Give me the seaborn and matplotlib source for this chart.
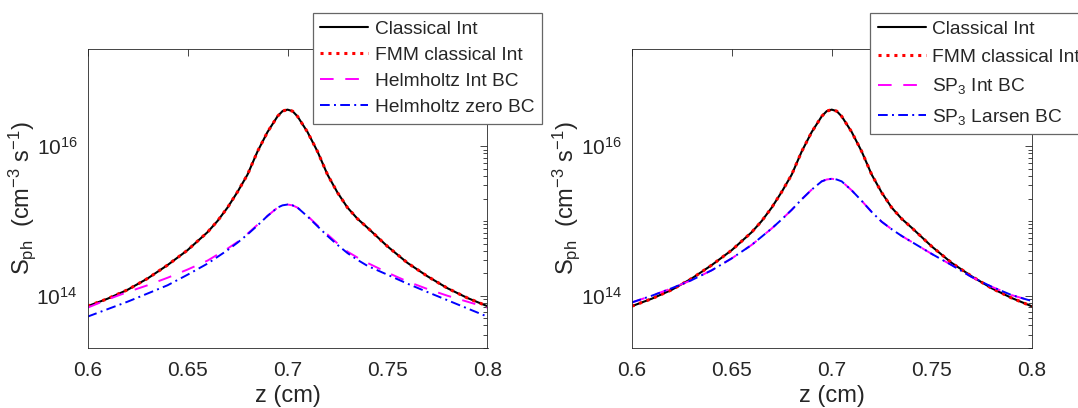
import numpy as np
import pandas as pd
import matplotlib
matplotlib.use('Agg')
import matplotlib.pyplot as plt
import seaborn as sns
from matplotlib.ticker import FixedLocator, LogLocator, NullFormatter

# z positions (cm)
z = [0.60, 0.61, 0.62, 0.63, 0.64, 0.65, 0.66, 0.665, 0.67, 0.675, 0.68, 0.685,
     0.69, 0.695, 0.6975, 0.70, 0.7025, 0.705, 0.71, 0.715, 0.72, 0.725,
     0.73, 0.735, 0.74, 0.75, 0.76, 0.77, 0.78, 0.79, 0.80]

classical_int = [7.24e13, 9.12e13, 1.20e14, 1.70e14, 2.57e14, 4.07e14, 7.08e14,
                 1.00e15, 1.51e15, 2.45e15, 4.17e15, 8.51e15, 1.55e16, 2.51e16,
                 2.95e16, 3.09e16, 2.95e16, 2.51e16, 1.55e16, 8.51e15, 4.17e15,
                 2.40e15, 1.51e15, 1.07e15, 8.13e14, 4.57e14, 2.75e14, 1.82e14,
                 1.26e14, 9.33e13, 7.24e13]
fmm_classical_int = list(classical_int)

helmholtz_int = [6.92e13, 8.91e13, 1.12e14, 1.38e14, 1.74e14, 2.24e14, 2.95e14,
                 3.55e14, 4.27e14, 5.25e14, 6.76e14, 8.91e14, 1.17e15, 1.51e15,
                 1.62e15, 1.66e15, 1.62e15, 1.51e15, 1.17e15, 8.71e14, 6.61e14,
                 5.01e14, 3.89e14, 3.24e14, 2.75e14, 2.04e14, 1.55e14, 1.23e14,
                 1.00e14, 8.32e13, 6.92e13]
helmholtz_zero = [5.25e13, 6.61e13, 8.32e13, 1.07e14, 1.38e14, 1.91e14, 2.69e14,
                  3.31e14, 4.07e14, 5.13e14, 6.61e14, 8.71e14, 1.17e15, 1.51e15,
                  1.62e15, 1.66e15, 1.62e15, 1.51e15, 1.15e15, 8.51e14, 6.31e14,
                  4.79e14, 3.72e14, 3.02e14, 2.51e14, 1.91e14, 1.45e14, 1.12e14,
                  8.71e13, 6.76e13, 5.25e13]

sp3_int = [8.13e13, 1.00e14, 1.26e14, 1.62e14, 2.19e14, 3.16e14, 4.79e14,
           6.17e14, 7.94e14, 1.05e15, 1.41e15, 1.95e15, 2.63e15, 3.39e15,
           3.59e15, 3.67e15, 3.59e15, 3.39e15, 2.57e15, 1.86e15, 1.32e15,
           9.77e14, 7.76e14, 6.31e14, 5.25e14, 3.63e14, 2.57e14, 1.78e14,
           1.32e14, 1.02e14, 8.51e13]
sp3_larsen = list(sp3_int)

sns.set_style('white')
plt.rcParams['font.family'] = ['Liberation Sans', 'DejaVu Sans']
plt.rcParams['mathtext.fontset'] = 'custom'
plt.rcParams['mathtext.rm'] = 'Liberation Sans'
plt.rcParams['mathtext.it'] = 'Liberation Sans:italic'
plt.rcParams['mathtext.bf'] = 'Liberation Sans:bold'

W, H = 1078, 408
fig = plt.figure(figsize=(W / 100, H / 100), dpi=100)
ax1 = fig.add_axes([87.5 / W, 1 - 348 / H, 400 / W, 299 / H])
ax2 = fig.add_axes([631.7 / W, 1 - 348 / H, 400 / W, 299 / H])

dark = '#262626'
styles = [
    dict(color='black', lw=1.5, linestyle='-'),
    dict(color='red', lw=2.2, linestyle=(0, (1, 1.6))),
    dict(color='magenta', lw=1.4, linestyle=(0, (7, 6))),
    dict(color='blue', lw=1.4, linestyle=(0, (5, 2.2, 1, 2.2))),
]

panels = [
    (ax1, [classical_int, fmm_classical_int, helmholtz_int, helmholtz_zero],
     ['Classical Int', 'FMM classical Int', 'Helmholtz Int BC', 'Helmholtz zero BC'],
     312.7, 0.45),
    (ax2, [classical_int, fmm_classical_int, sp3_int, sp3_larsen],
     ['Classical Int', 'FMM classical Int', 'SP$_3$ Int BC', 'SP$_3$ Larsen BC'],
     870, 0.55),
]

for ax, series, labels, leg_x, spacing in panels:
    for vals, lab, st in zip(series, labels, styles):
        df = pd.DataFrame({'z': z, 'S': vals})
        sns.lineplot(data=df, x='z', y='S', ax=ax, label=lab, **st)

    ax.set_yscale('log')
    ax.set_xlim(0.6, 0.8)
    ax.set_ylim(2e13, 2e17)
    ax.set_xticks([0.6, 0.65, 0.7, 0.75, 0.8])
    ax.set_xticklabels(['0.6', '0.65', '0.7', '0.75', '0.8'])
    ax.yaxis.set_major_locator(FixedLocator([1e14, 1e16]))
    ax.yaxis.set_minor_locator(LogLocator(base=10, subs=np.arange(1, 10), numticks=20))
    ax.yaxis.set_minor_formatter(NullFormatter())

    ax.tick_params(which='both', direction='in', top=True, right=True,
                   color=dark, labelcolor=dark, width=0.6)
    ax.tick_params(which='major', length=5, labelsize=15)
    ax.tick_params(which='minor', length=3)
    ax.tick_params(axis='x', pad=9)
    ax.tick_params(axis='y', pad=7)
    for sp in ax.spines.values():
        sp.set_color(dark)
        sp.set_linewidth(0.6)

    ax.set_xlabel('z (cm)', fontsize=17, color=dark)
    ax.set_ylabel(r'S$_{\rm ph}$  (cm$^{-3}$ s$^{-1}$)', fontsize=17, color=dark)
    ax.xaxis.set_label_coords(0.5, -0.125)
    ax.yaxis.set_label_coords(-0.125, 0.5)

    leg = ax.legend(loc='upper left', bbox_to_anchor=(leg_x / W, 1 - 12.7 / H),
                    bbox_transform=fig.transFigure, fontsize=13.8, frameon=True,
                    fancybox=False, framealpha=1, edgecolor='0.4',
                    handlelength=2.5, handletextpad=0.35, borderpad=0.4,
                    labelspacing=spacing, borderaxespad=0)
    leg.get_frame().set_linewidth(0.9)

fig.savefig('out.png', dpi=100)
